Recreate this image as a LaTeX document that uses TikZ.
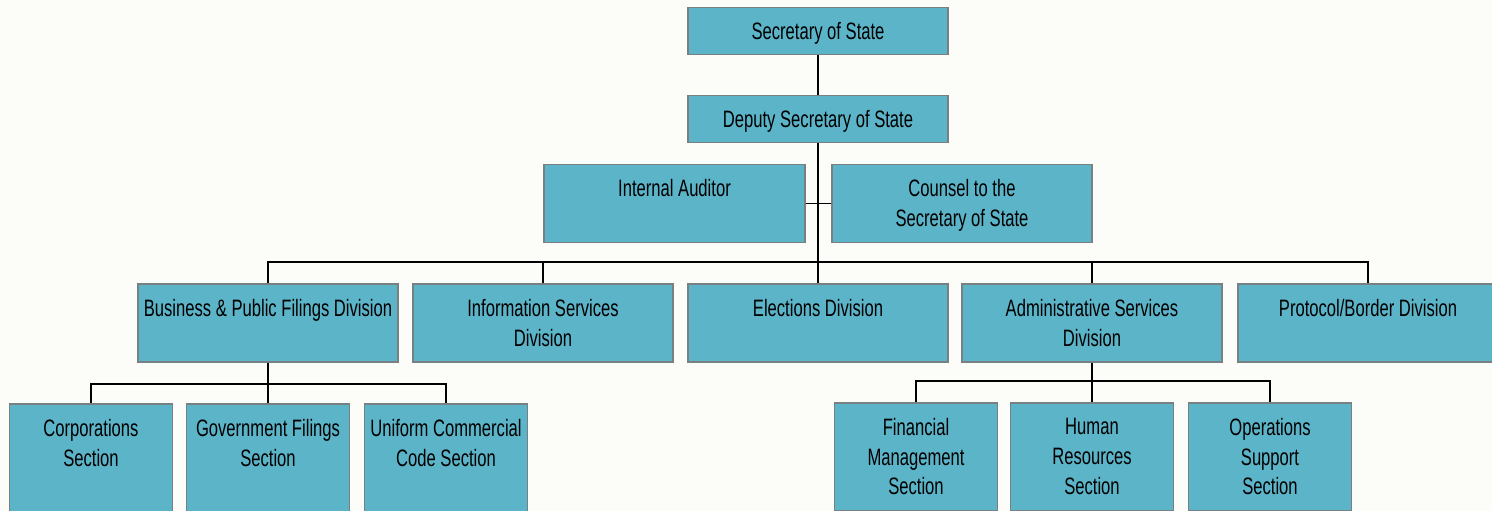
\documentclass[tikz,border=0pt]{standalone}
\usepackage{fontspec}
\setmainfont{Liberation Sans}[FakeStretch=0.7]
\definecolor{boxfill}{RGB}{92,180,200}
\definecolor{boxedge}{RGB}{120,128,130}
\definecolor{paper}{RGB}{252,252,249}
\tikzset{
  unit/.style={draw=boxedge, fill=boxfill, line width=0.6pt, align=center,
    minimum width=5.2cm, minimum height=1.56cm, inner sep=0pt,
    font=\fontsize{13.5}{17}\selectfont, text depth=0.6pt},
  top/.style={unit, minimum height=0.94cm},
  section/.style={unit, minimum width=3.26cm, minimum height=2.16cm},
  wire/.style={line width=1.1pt}
}
\begin{document}
\begin{tikzpicture}
\fill[paper] (0,0) rectangle (29.84,-10.22);
\clip (0,0) rectangle (29.84,-10.22);
\node[top] (sec) at (16.36,-0.62) {Secretary of State};
\node[top] (deputy) at (16.36,-2.38) {Deputy Secretary of State};
\node[unit, minimum width=5.22cm] (auditor) at (13.49,-4.07) {Internal Auditor\\\strut};
\node[unit] (counsel) at (19.24,-4.07) {Counsel to the\\Secretary of State\strut};
\node[unit] (business) at (5.36,-6.46) {Business \& Public Filings Division\\\strut};
\node[unit] (info) at (10.86,-6.46) {Information Services\\Division\strut};
\node[unit] (elections) at (16.36,-6.46) {Elections Division\\\strut};
\node[unit] (admin) at (21.84,-6.46) {Administrative Services\\Division\strut};
\node[unit] (protocol) at (27.36,-6.46) {Protocol/Border Division\\\strut};
\node[section] (corp) at (1.82,-9.16) {Corporations\\Section\\\strut};
\node[section] (gov) at (5.36,-9.16) {Government Filings\\Section\\\strut};
\node[section] (ucc) at (8.92,-9.16) {Uniform Commercial\\Code Section\\\strut};
\node[section] (fin) at (18.32,-9.14) {Financial\\Management\\Section\strut};
\node[section] (hr) at (21.84,-9.14) {Human\\Resources\\Section\strut};
\node[section] (ops) at (25.40,-9.14) {Operations\\Support\\Section\strut};
% reporting lines
\coordinate (busTop) at (16.36,-5.24);
\coordinate (busBiz) at (5.36,-7.68);
\coordinate (busAdm) at (21.84,-7.62);
\draw[wire] (sec) -- (deputy);
\draw[wire] (deputy.south) -- (busTop);
\draw[wire] (auditor.east) -- (counsel.west);
\draw[wire] (business.north) |- (busTop) -| (protocol.north);
\foreach \n in {info,elections,admin}
  \draw[wire] (\n.north) -- (\n.north |- busTop);
\draw[wire] (business.south) -- (busBiz);
\draw[wire] (corp.north) |- (busBiz) -| (ucc.north);
\draw[wire] (gov.north) -- (busBiz);
\draw[wire] (admin.south) -- (busAdm);
\draw[wire] (fin.north) |- (busAdm) -| (ops.north);
\draw[wire] (hr.north) -- (busAdm);
\end{tikzpicture}
\end{document}
